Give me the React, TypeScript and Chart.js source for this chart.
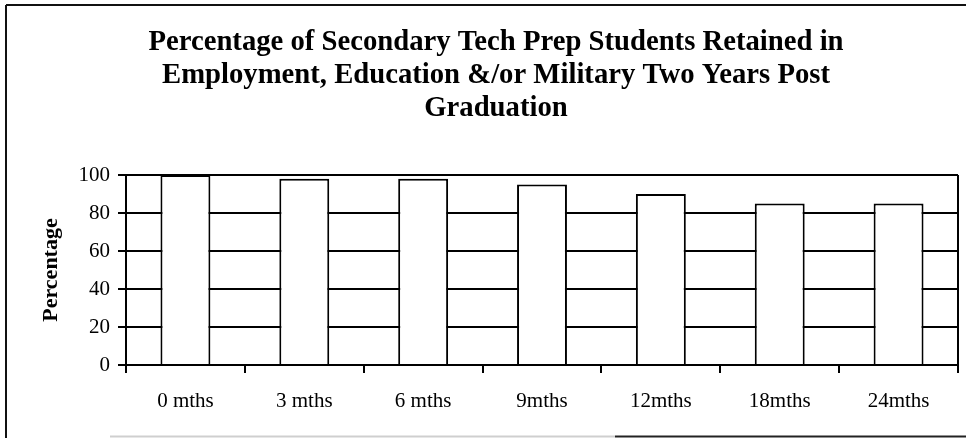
import React, { useEffect, useRef } from "react";
import { Chart, registerables } from "chart.js";

Chart.register(...registerables);

const categories = ["0 mths", "3 mths", "6 mths", "9mths", "12mths", "18mths", "24mths"];
const retainedValues = [100, 98, 98, 95, 90, 85, 85];
const titleLines = [
  "Percentage of Secondary Tech Prep Students Retained in",
  "Employment, Education &/or Military Two Years Post",
  "Graduation",
];
const yAxisTitle = "Percentage";
const yMin = 0;
const yMax = 100;
const yStep = 20;

const SERIF = '"Liberation Serif", "Times New Roman", serif';

const framePlugin = {
  id: "frame",
  afterDraw(chart: any) {
    const { ctx, chartArea, width, height } = chart;
    ctx.save();
    ctx.strokeStyle = "#000";
    ctx.lineWidth = 2;
    ctx.beginPath();
    ctx.moveTo(chartArea.right, chartArea.top);
    ctx.lineTo(chartArea.right, chartArea.bottom);
    ctx.stroke();
    ctx.lineWidth = 2;
    ctx.strokeStyle = "#111";
    ctx.beginPath();
    ctx.moveTo(6, 5);
    ctx.lineTo(width, 5);
    ctx.moveTo(6, 5);
    ctx.lineTo(6, height);
    ctx.stroke();
    ctx.strokeStyle = "#cfcfcf";
    ctx.beginPath();
    ctx.moveTo(110, height - 1.5);
    ctx.lineTo(615, height - 1.5);
    ctx.stroke();
    ctx.strokeStyle = "#222";
    ctx.beginPath();
    ctx.moveTo(615, height - 1.5);
    ctx.lineTo(width, height - 1.5);
    ctx.stroke();
    ctx.restore();
  },
};

export default function App() {
  const canvasRef = useRef<HTMLCanvasElement | null>(null);

  useEffect(() => {
    const canvas = canvasRef.current;
    if (!canvas) return;
    const chart = new Chart(canvas, {
      type: "bar",
      data: {
        labels: categories,
        datasets: [
          {
            label: "Retained",
            data: retainedValues,
            backgroundColor: "#ffffff",
            borderColor: "#000000",
            borderWidth: 2,
            barPercentage: 0.42,
            categoryPercentage: 1,
          },
        ],
      },
      options: {
        animation: false,
        responsive: false,
        maintainAspectRatio: false,
        layout: { padding: { left: 34, right: 8, top: 0, bottom: 0 } },
        plugins: {
          legend: { display: false },
          tooltip: { enabled: false },
          title: {
            display: true,
            text: titleLines,
            color: "#000",
            font: { family: SERIF, size: 28.7, weight: "bold", lineHeight: "33px" } as any,
            padding: { top: 26, bottom: 50 },
          },
        },
        scales: {
          x: {
            grid: {
              display: true,
              drawOnChartArea: false,
              drawTicks: true,
              tickLength: 8,
              color: "#000",
              lineWidth: 2,
              offset: true,
            },
            border: { display: true, color: "#000", width: 2 },
            ticks: {
              color: "#000",
              font: { family: SERIF, size: 21 },
              padding: 16,
              maxRotation: 0,
              autoSkip: false,
            },
            afterFit: (scale: any) => {
              scale.height = 73;
            },
          },
          y: {
            min: yMin,
            max: yMax,
            grid: {
              color: "#000",
              lineWidth: 2,
              drawTicks: true,
              tickLength: 8,
            },
            border: { display: true, color: "#000", width: 2 },
            ticks: {
              stepSize: yStep,
              color: "#000",
              font: { family: SERIF, size: 21 },
              padding: 8,
            },
            title: {
              display: true,
              text: yAxisTitle,
              color: "#000",
              font: { family: SERIF, size: 22, weight: "bold" },
              padding: { top: 4, bottom: 4 },
            },
            afterFit: (scale: any) => {
              scale.width = 92;
            },
          },
        },
      },
      plugins: [framePlugin],
    });
    return () => chart.destroy();
  }, []);

  return (
    <div style={{ position: "fixed", left: 0, top: 0, width: 966, height: 438, background: "#fff" }}>
      <canvas ref={canvasRef} width={966} height={438} style={{ width: 966, height: 438 }} />
    </div>
  );
}
